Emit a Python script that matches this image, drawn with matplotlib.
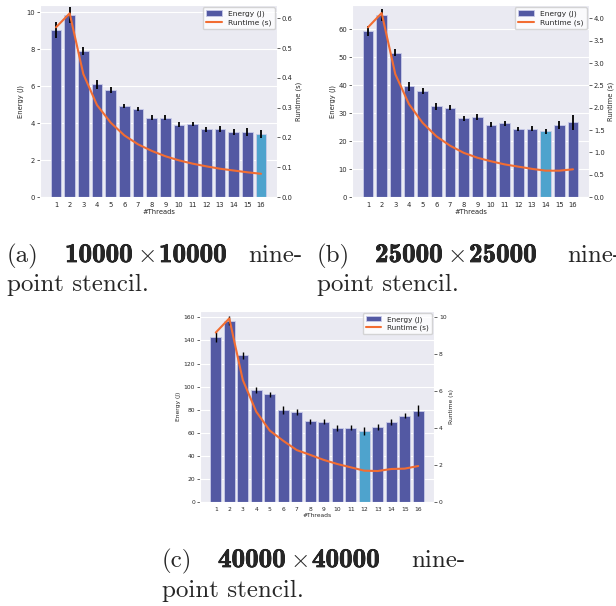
import numpy as np
import matplotlib
matplotlib.use('Agg')
import matplotlib.pyplot as plt
import matplotlib.patheffects as pe
import seaborn as sns
from matplotlib.patches import Patch
from matplotlib.lines import Line2D

sns.set_style('darkgrid')
plt.rcParams['font.family'] = ['DejaVu Sans']
plt.rcParams['mathtext.fontset'] = 'cm'

threads = list(range(1, 17))

energy_a = [9.04, 9.87, 7.92, 6.11, 5.79, 4.92, 4.77, 4.30, 4.30, 3.92, 3.95, 3.66, 3.68, 3.53, 3.53, 3.42]
err_a = [0.45, 0.43, 0.22, 0.24, 0.16, 0.12, 0.11, 0.14, 0.14, 0.12, 0.11, 0.13, 0.18, 0.18, 0.20, 0.20]
runtime_a = [0.570, 0.617, 0.413, 0.309, 0.250, 0.207, 0.177, 0.155, 0.137, 0.123, 0.112, 0.103, 0.095, 0.089, 0.083, 0.078]

energy_b = [59.4, 65.1, 51.7, 39.6, 38.0, 32.5, 31.9, 28.2, 28.5, 25.9, 26.3, 24.4, 24.5, 23.5, 25.7, 26.8]
err_b = [1.9, 2.2, 1.4, 1.6, 1.0, 1.3, 0.9, 0.85, 1.1, 0.85, 0.9, 0.8, 0.85, 0.85, 1.4, 2.7]
runtime_b = [3.80, 4.12, 2.75, 2.08, 1.66, 1.36, 1.15, 0.99, 0.88, 0.80, 0.73, 0.68, 0.63, 0.59, 0.59, 0.62]

energy_c = [143.2, 157.1, 127.1, 97.1, 93.3, 79.7, 78.3, 69.9, 69.6, 64.1, 64.4, 61.8, 65.0, 69.6, 74.8, 79.1]
err_c = [4.3, 3.9, 3.3, 2.6, 2.2, 3.2, 2.6, 2.2, 2.2, 2.3, 2.2, 3.6, 2.2, 2.5, 2.0, 4.6]
runtime_c = [9.14, 9.90, 6.58, 4.87, 3.85, 3.30, 2.80, 2.54, 2.27, 2.05, 1.87, 1.69, 1.67, 1.78, 1.80, 1.94]

# caption pieces
cap_labels = ['(a)', '(b)', '(c)']
cap_sizes = ['10000', '25000', '40000']

BAR = '#5359a3'
BEST = '#4ea3cd'
LINE = '#f26d32'


def draw_panel(rect, energy, err, runtime, best, e_top, e_step, r_top, r_ticks, fs, lfs, elw):
    ax = fig.add_axes(rect)
    x = np.arange(len(threads))
    colors = [BEST if i == best else BAR for i in x]
    ax.bar(x, energy, width=0.8, color=colors, edgecolor='#c9cbe8', linewidth=0.6, zorder=2)
    ax.errorbar(x, energy, yerr=err, fmt='none', ecolor='black', elinewidth=elw, capsize=0, zorder=3)
    ax.set_xlim(-1.17, 16.17)
    ax.set_ylim(0, e_top)
    ax.set_yticks(np.arange(0, e_top, e_step))
    ax.set_xticks(x)
    ax.set_xticklabels([str(t) for t in threads])
    ax.xaxis.grid(False)
    ax.set_xlabel('#Threads', fontsize=fs, labelpad=1, color='.15')
    ax.set_ylabel('Energy (J)', fontsize=fs, labelpad=2, color='.15')
    ax.tick_params(labelsize=fs, length=2, width=0.5, pad=1.5, colors='.15')

    ax2 = ax.twinx()
    ax2.plot(x, runtime, color=LINE, lw=1.5, zorder=4)
    ax2.set_ylim(0, r_top)
    ax2.set_yticks(r_ticks)
    ax2.grid(False)
    ax2.set_ylabel('Runtime (s)', fontsize=fs, labelpad=2, color='.15')
    ax2.tick_params(labelsize=fs, length=2, width=0.5, pad=1.5, colors='.15')
    for s in ax2.spines.values():
        s.set_visible(False)

    handles = [Patch(facecolor=BAR, edgecolor='#c9cbe8', linewidth=0.6),
               Line2D([0], [0], color=LINE, lw=1.5)]
    leg = ax2.legend(handles, ['Energy (J)', 'Runtime (s)'], loc='upper right',
                     fontsize=lfs, frameon=True, borderpad=0.4, handlelength=2.2,
                     labelspacing=0.3, borderaxespad=0.3)
    leg.get_frame().set_facecolor('white')
    leg.get_frame().set_alpha(0.8)
    leg.get_frame().set_edgecolor('#cccccc')
    return ax


W, H = 616, 606
fig = plt.figure(figsize=(W / 100, H / 100), dpi=100)

draw_panel([40 / W, 1 - 197 / H, 237 / W, 192 / H], energy_a, err_a, runtime_a, 15,
           10.4, 2, 0.645, np.round(np.arange(0, 0.61, 0.1), 1), 4.9, 5.4, 1.3)
draw_panel([352 / W, 1 - 197 / H, 237 / W, 192 / H], energy_b, err_b, runtime_b, 13,
           68.7, 10, 4.3, np.arange(0, 4.01, 0.5), 4.9, 5.4, 1.3)
draw_panel([200 / W, 1 - 502 / H, 234 / W, 191 / H], energy_c, err_c, runtime_c, 11,
           165.5, 20, 10.3, np.arange(0, 10.1, 2), 4.3, 5.2, 1.0)

cfs = 18
bold_fx = [pe.withStroke(linewidth=0.5, foreground='black')]
# x of label, x of bold part, right edge of "nine-", baseline y
cap_pos = [(7, 65, 302, 262), (317, 375, None, 262), (162, 218, 465, 567)]
for lab, size, (x0, xb, x1, yb) in zip(cap_labels, cap_sizes, cap_pos):
    y = 1 - yb / H
    fig.text(x0 / W, y, lab, family='cmr10', fontsize=cfs, va='baseline')
    fig.text(xb / W, y, size, family='cmb10', fontsize=19.5, va='baseline', path_effects=bold_fx)
    fig.text((xb + 81) / W, y, r'$\times$', fontsize=cfs, va='baseline', ha='center')
    fig.text((xb + 94) / W, y, size, family='cmb10', fontsize=19.5, va='baseline', path_effects=bold_fx)
    if x1 is not None:
        fig.text(x1 / W, y, 'nine-', family='cmr10', fontsize=cfs, va='baseline', ha='right')
    else:
        fig.text(567 / W, y, 'nine-', family='cmr10', fontsize=cfs, va='baseline')
    fig.text(x0 / W, 1 - (yb + 29.5) / H, 'point stencil.', family='cmr10', fontsize=cfs, va='baseline')

fig.savefig('out.png', dpi=100)
